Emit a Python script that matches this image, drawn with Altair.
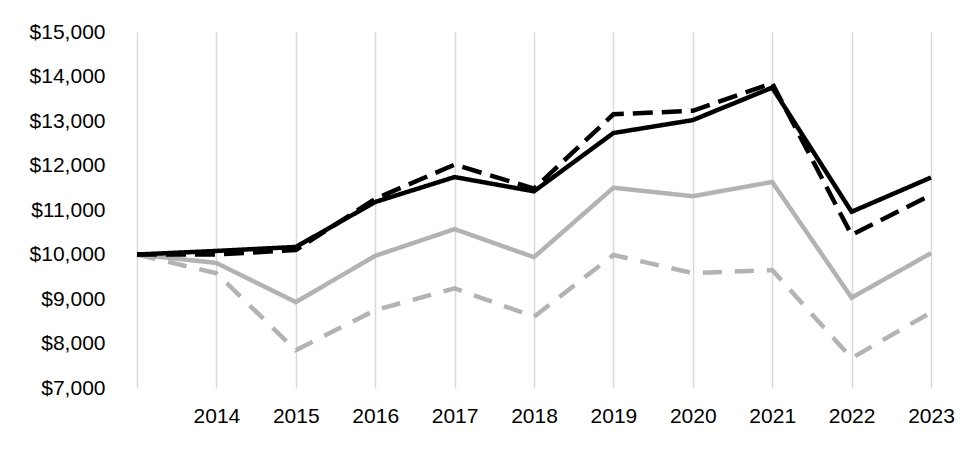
import altair as alt
import pandas as pd

years = [2013, 2014, 2015, 2016, 2017, 2018, 2019, 2020, 2021, 2022, 2023]
series_names = ["Gray Dashed", "Gray Solid", "Black Solid", "Black Dashed"]
black_solid = [10000, 10080, 10170, 11180, 11740, 11420, 12730, 13020, 13750, 10960, 11730]
black_dashed = [10000, 10000, 10100, 11250, 12020, 11480, 13150, 13230, 13850, 10440, 11340]
gray_solid = [10000, 9810, 8930, 9970, 10570, 9940, 11500, 11310, 11630, 9030, 10030]
gray_dashed = [10000, 9580, 7850, 8750, 9240, 8600, 9990, 9580, 9650, 7670, 8700]

values = {"Gray Dashed": gray_dashed, "Gray Solid": gray_solid,
          "Black Solid": black_solid, "Black Dashed": black_dashed}
rows = []
for i, name in enumerate(series_names):
    for y, v in zip(years, values[name]):
        rows.append({"year": y, "value": v, "series": name, "order": i})
df = pd.DataFrame(rows)

chart = alt.Chart(df).mark_line(strokeWidth=4.5, strokeJoin="miter").encode(
    x=alt.X("year:Q", scale=alt.Scale(domain=[2013, 2023], nice=False, zero=False),
            axis=alt.Axis(values=years, labelExpr="datum.value == 2013 ? '' : datum.value",
                          title=None, grid=True, gridColor="#d9d9d9", gridWidth=1.5,
                          domain=False, ticks=False, labelFont="Liberation Sans",
                          labelFontSize=21, labelColor="#000000", labelPadding=17,
                          labelFlush=False)),
    y=alt.Y("value:Q", scale=alt.Scale(domain=[7000, 15000], nice=False, zero=False),
            axis=alt.Axis(values=list(range(7000, 15001, 1000)), format="$,.0f",
                          title=None, grid=False, domain=False, ticks=False,
                          labelFont="Liberation Sans", labelFontSize=21,
                          labelColor="#000000", labelPadding=32)),
    color=alt.Color("series:N", scale=alt.Scale(domain=series_names,
                    range=["#b3b3b3", "#b3b3b3", "#000000", "#000000"]), legend=None),
    strokeDash=alt.StrokeDash("series:N", scale=alt.Scale(domain=series_names,
                    range=[[19, 13], [1, 0], [1, 0], [20, 9]]), legend=None),
    order=alt.Order("year:Q"),
).properties(
    width=794, height=356,
    autosize=alt.AutoSizeParams(type="none"),
    padding={"left": 137, "top": 32, "right": 29, "bottom": 78},
).configure_view(stroke=None)

chart.save("out.html", embed_options={"renderer": "svg", "actions": False})
